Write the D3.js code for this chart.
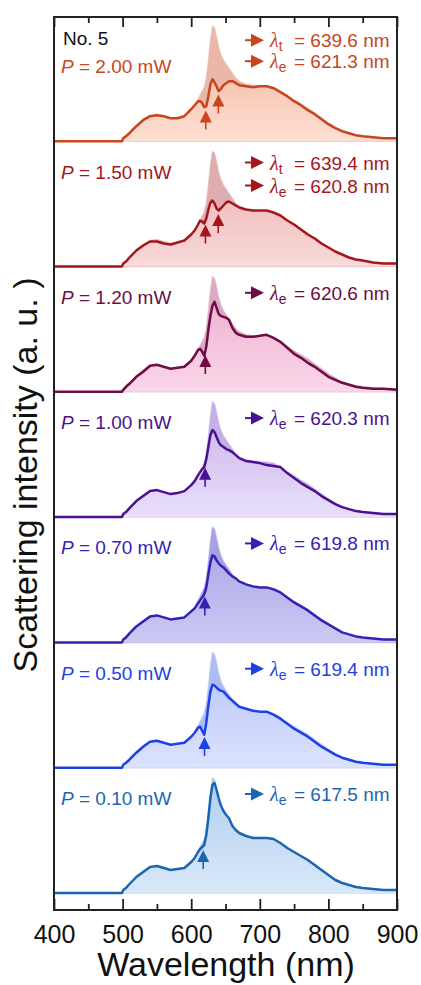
<!doctype html>
<html>
  <head>
    <script src="https://cdnjs.cloudflare.com/ajax/libs/d3/7.8.5/d3.min.js"></script>
    <style>
      body { margin: 0; background: #fff; }
      text { font-family: Arial, "Liberation Sans", Helvetica, sans-serif; }
    </style>
  </head>
  <body>
    <svg id="chart" width="421" height="985"></svg>
    <script>
      // wavelength grid (nm)
      var wavelength = [400, 499, 501, 505, 510, 520, 530, 540, 550, 560, 570, 580, 590, 600, 605, 610, 613, 616, 619, 622, 625, 628, 631, 634, 637, 640, 643, 647, 651, 655, 660, 665, 670, 680, 690, 700, 710, 720, 730, 740, 750, 760, 770, 780, 790, 800, 810, 820, 830, 840, 850, 865, 880, 900];

      // reference spectrum drawn as the pale shadow in every panel (a.u.)
      var reference = [0, 0, 3, 6, 9, 16, 22, 26, 27, 25, 23, 24, 25, 31, 35, 42, 46, 50, 54, 63, 80, 100, 115, 113, 104, 94, 87, 81, 77, 73, 68, 63, 60, 57, 56, 55, 55, 54, 50, 45, 41, 37, 33, 28, 23, 18, 14, 10, 8, 6, 5, 4, 3, 2];

      // scattering spectra for each pump power (a.u.)
      var s200 = [0, 0, 3, 5, 8, 15, 21, 25, 26, 25, 23, 23, 25, 32, 36, 40, 40, 38, 34, 35, 45, 57, 62, 59, 55, 50, 52, 56, 58, 60, 60, 58, 56, 55, 54, 55, 55, 53, 49, 45, 40, 36, 31, 27, 22, 17, 13, 10, 8, 6, 5, 4, 3, 3];
      var s150 = [0, 0, 3, 5, 9, 16, 21, 25, 25, 23, 22, 24, 26, 32, 36, 42, 46, 45, 43, 48, 57, 64, 66, 63, 58, 56, 58, 61, 64, 65, 63, 61, 59, 57, 56, 56, 56, 54, 51, 46, 42, 37, 32, 28, 23, 19, 15, 12, 9, 7, 6, 4, 3, 3];
      var s120 = [0, 0, 2, 5, 8, 15, 20, 26, 27, 25, 23, 24, 25, 31, 36, 42, 43, 40, 36, 45, 62, 76, 86, 90, 84, 78, 76, 75, 74, 72, 64, 59, 57, 55, 55, 56, 57, 54, 50, 44, 38, 34, 29, 25, 20, 15, 12, 9, 7, 5, 4, 3, 3, 2];
      var s100 = [0, 0, 3, 5, 9, 16, 21, 26, 27, 25, 23, 24, 26, 32, 36, 42, 45, 48, 50, 58, 70, 82, 87, 85, 80, 75, 72, 70, 68, 67, 65, 62, 59, 56, 55, 54, 52, 51, 50, 44, 39, 34, 30, 26, 21, 17, 13, 10, 8, 6, 5, 4, 3, 3];
      var s070 = [0, 0, 3, 5, 9, 16, 21, 26, 27, 25, 23, 24, 25, 31, 34, 39, 42, 45, 48, 55, 68, 80, 87, 86, 82, 79, 77, 75, 72, 69, 66, 64, 61, 58, 56, 55, 55, 53, 50, 45, 40, 36, 32, 27, 22, 18, 14, 10, 8, 6, 5, 4, 3, 3];
      var s050 = [0, 0, 3, 5, 8, 15, 21, 26, 27, 25, 23, 24, 25, 31, 35, 40, 41, 37, 33, 45, 62, 76, 83, 82, 80, 78, 77, 76, 73, 70, 67, 64, 61, 59, 57, 56, 56, 53, 49, 44, 39, 35, 31, 26, 21, 17, 13, 10, 8, 6, 5, 4, 3, 3];
      var s010 = [0, 0, 3, 5, 9, 16, 21, 26, 27, 25, 23, 24, 25, 31, 35, 41, 44, 46, 48, 58, 75, 95, 108, 110, 103, 95, 88, 82, 78, 75, 67, 63, 60, 57, 55, 55, 55, 54, 50, 45, 41, 37, 33, 28, 23, 18, 13, 10, 8, 6, 5, 4, 3, 3];

      // panels, top to bottom
      var powers = ["2.00", "1.50", "1.20", "1.00", "0.70", "0.50", "0.10"];
      var spectra = [s200, s150, s120, s100, s070, s050, s010];
      var lambdaE = [621.3, 620.8, 620.6, 620.3, 619.8, 619.4, 617.5];
      var lambdaT = [639.6, 639.4, null, null, null, null, null];

      var lineColors = ["#c8461e", "#a5161c", "#6e0c45", "#4b1190", "#3522b5", "#1e40e6", "#1b66b0"];
      var fillTop = ["#f7c5b1", "#f1bfbf", "#efb3d2", "#d0bbf0", "#aeaaea", "#bfcbf9", "#b2cff0"];
      var fillBottom = ["#fcdfd3", "#f9dada", "#fad7e8", "#e9dff9", "#cccaf3", "#dce3fc", "#d9e8f8"];
      var shadowColors = ["#e9b8a9", "#deadb0", "#d9abc5", "#c3b0e4", "#a6a2e2", "#adbdf4", "#a6c6eb"];

      var xTicks = [400, 500, 600, 700, 800, 900];
      var xMinorTicks = [450, 550, 650, 750, 850];
      var offsetStep = 125.3;

      var svg = d3.select("#chart");

      var x = d3.scaleLinear().domain([400, 900]).range([54, 397]);
      var y = d3.scaleLinear().domain([-17, 876]).range([910, 17]);

      function valueAt(series, w) {
        var i = d3.bisectLeft(wavelength, w);
        var w0 = wavelength[i - 1], w1 = wavelength[i];
        var t = (w - w0) / (w1 - w0);
        return series[i - 1] + t * (series[i] - series[i - 1]);
      }

      var defs = svg.append("defs");
      lineColors.forEach(function(c, i) {
        var g = defs.append("linearGradient")
          .attr("id", "grad" + i)
          .attr("x1", 0).attr("y1", 0).attr("x2", 0).attr("y2", 1);
        g.append("stop").attr("offset", "0%").attr("stop-color", fillTop[i]);
        g.append("stop").attr("offset", "100%").attr("stop-color", fillBottom[i]);
      });

      var panels = svg.append("g").selectAll("g.panel")
        .data(powers)
        .enter()
        .append("g")
          .attr("class", "panel");

      panels.each(function(p, i) {
        var g = d3.select(this);
        var off = (6 - i) * offsetStep;
        var base = y(off);
        var series = spectra[i];
        var col = lineColors[i];

        var area = d3.area()
          .x(function(d, j) { return x(wavelength[j]); })
          .y0(base)
          .y1(function(d) { return y(d + off); });
        var line = d3.line()
          .x(function(d, j) { return x(wavelength[j]); })
          .y(function(d) { return y(d + off); });

        // reference shadow
        g.append("path")
          .attr("d", area(reference))
          .style("fill", shadowColors[i])
          .style("stroke", shadowColors[i])
          .style("stroke-width", 1.5)
          .style("stroke-opacity", 0.6);

        g.append("path")
          .attr("d", area(series))
          .style("fill", "url(#grad" + i + ")");

        g.append("path")
          .attr("d", line(series))
          .style("fill", "none")
          .style("stroke", col)
          .style("stroke-width", 2.5)
          .style("stroke-linejoin", "round");

        // up arrows under the curve
        [lambdaE[i], lambdaT[i]].forEach(function(w) {
          if (w == null) return;
          var ax = x(w);
          var tip = y(valueAt(series, w) + off) + 4;
          g.append("line")
            .attr("x1", ax).attr("x2", ax)
            .attr("y1", tip + 10).attr("y2", tip + 19)
            .style("stroke", col)
            .style("stroke-width", 1.6);
          g.append("path")
            .attr("d", "M" + ax + "," + tip + "L" + (ax + 6) + "," + (tip + 12) + "L" + (ax - 6) + "," + (tip + 12) + "Z")
            .style("fill", col);
        });

        // power label
        var pY = i == 0 ? base - 68 : base - 88;
        var pt = g.append("text")
          .attr("x", 61)
          .attr("y", pY)
          .style("font-size", "19px")
          .style("fill", col);
        pt.append("tspan").style("font-style", "italic").text("P");
        pt.append("tspan").text(" = " + p + " mW");

        // wavelength labels
        var labels = [];
        if (lambdaT[i] != null) {
          labels.push({ sub: "t", v: lambdaT[i], yy: i == 0 ? base - 94 : base - 97 });
          labels.push({ sub: "e", v: lambdaE[i], yy: i == 0 ? base - 73 : base - 74 });
        } else {
          labels.push({ sub: "e", v: lambdaE[i], yy: base - 92 });
        }
        labels.forEach(function(l) {
          var cy = l.yy - 7;
          g.append("line")
            .attr("x1", 245).attr("x2", 254)
            .attr("y1", cy).attr("y2", cy)
            .style("stroke", col)
            .style("stroke-width", 2);
          g.append("path")
            .attr("d", "M264," + cy + "L251," + (cy - 6.5) + "L251," + (cy + 6.5) + "Z")
            .style("fill", col);
          var t = g.append("text")
            .attr("x", 270)
            .attr("y", l.yy)
            .style("font-size", "19px")
            .style("fill", col);
          t.append("tspan")
            .style("font-family", "'Liberation Serif', 'DejaVu Serif', serif")
            .style("font-style", "italic")
            .style("font-size", "20px")
            .text("\u03bb");
          t.append("tspan")
            .attr("dy", 4)
            .style("font-size", "14px")
            .text(l.sub);
          t.append("tspan")
            .attr("x", 294)
            .attr("dy", -4)
            .text("= " + l.v.toFixed(1) + " nm");
        });
      });

      svg.append("text")
        .attr("x", 63)
        .attr("y", 45)
        .style("font-size", "19px")
        .style("fill", "#111")
        .text("No. 5");

      // axes
      function styleAxis(sel) {
        sel.select(".domain").remove();
        sel.selectAll(".tick line").style("stroke", "#222").style("stroke-width", 1.8);
      }

      svg.append("g")
        .attr("transform", "translate(0,910)")
        .call(d3.axisBottom(x).tickValues(xTicks).tickSize(-11).tickPadding(15))
        .call(styleAxis)
        .selectAll("text")
          .style("font-size", "25px")
          .style("font-family", "Arial, 'Liberation Sans', sans-serif")
          .style("fill", "#111");

      svg.append("g")
        .attr("transform", "translate(0,910)")
        .call(d3.axisBottom(x).tickValues(xMinorTicks).tickSize(-6).tickFormat(""))
        .call(styleAxis);

      svg.append("g")
        .attr("transform", "translate(0,17)")
        .call(d3.axisTop(x).tickValues(xTicks).tickSize(-10).tickFormat(""))
        .call(styleAxis);

      svg.append("g")
        .attr("transform", "translate(0,17)")
        .call(d3.axisTop(x).tickValues(xMinorTicks).tickSize(-6).tickFormat(""))
        .call(styleAxis);

      svg.append("rect")
        .attr("x", x(400))
        .attr("y", y(876))
        .attr("width", x(900) - x(400))
        .attr("height", y(-17) - y(876))
        .style("fill", "none")
        .style("stroke", "#222")
        .style("stroke-width", 2);

      svg.append("text")
        .attr("x", 226)
        .attr("y", 976)
        .attr("text-anchor", "middle")
        .style("font-size", "34px")
        .style("fill", "#111")
        .text("Wavelength (nm)");

      svg.append("text")
        .attr("transform", "translate(37,475) rotate(-90)")
        .attr("text-anchor", "middle")
        .style("font-size", "34px")
        .style("fill", "#111")
        .text("Scattering intensity (a. u. )");
    </script>
  </body>
</html>
